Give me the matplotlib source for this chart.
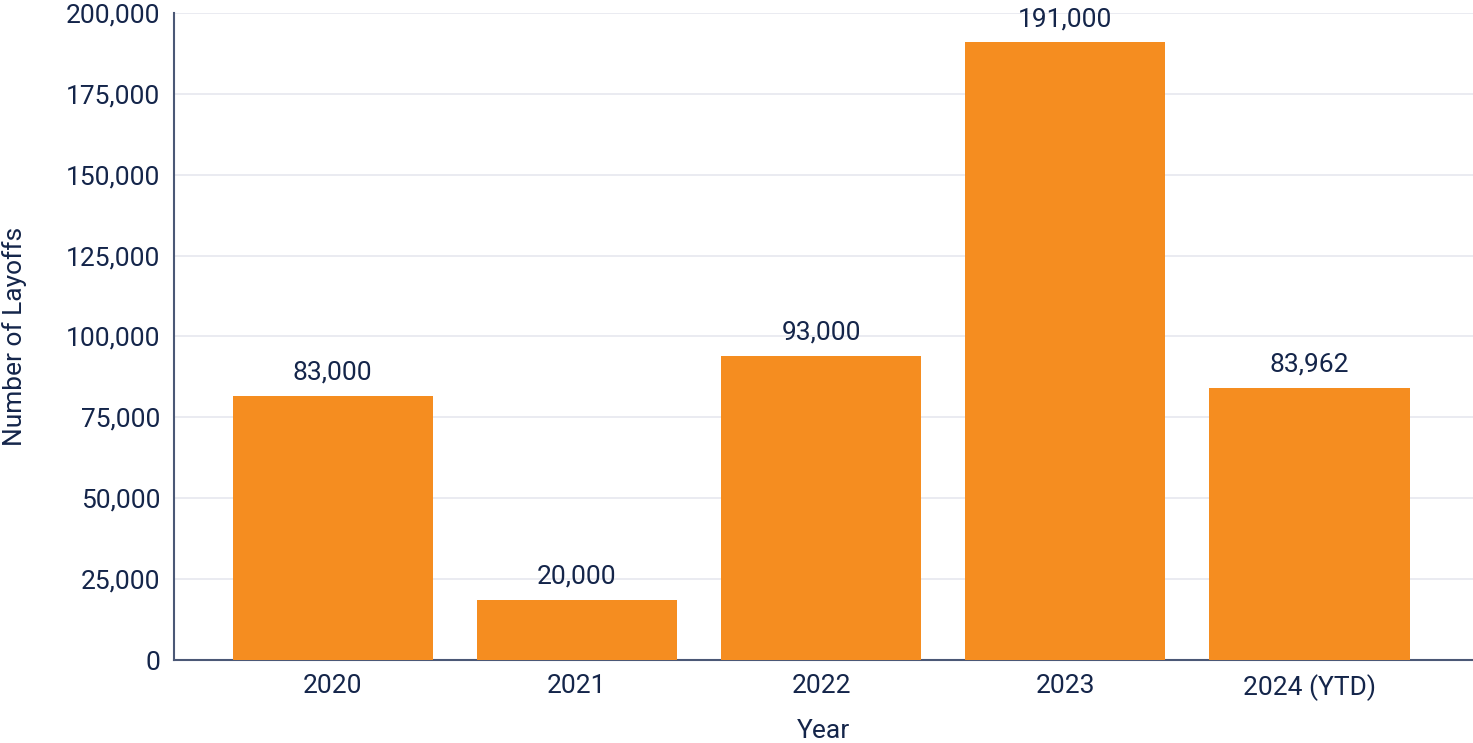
import matplotlib.pyplot as plt
from matplotlib.ticker import FuncFormatter

# data
years = ['2020', '2021', '2022', '2023', '2024 (YTD)']
bar_heights = [81600, 18700, 94000, 191000, 84200]
bar_labels = ['83,000', '20,000', '93,000', '191,000', '83,962']

TextColor = '#14254a'
AxisColor = '#4b5876'
BarColor = '#f58d20'

plt.rcParams['font.family'] = ['Roboto', 'DejaVu Sans']

fig = plt.figure(figsize=(14.73, 7.43), dpi=100)
ax = fig.add_axes([174/1473, 1-660/743, 1-174/1473, (660-13)/743])

x = range(len(years))
bars = ax.bar(x, bar_heights, width=0.82, color=BarColor, zorder=3)
for b, lab in zip(bars, bar_labels):
    ax.annotate(lab, (b.get_x()+b.get_width()/2, b.get_height()),
                xytext=(0, 8), textcoords='offset points',
                ha='center', va='bottom', fontsize=19, color=TextColor)

ax.set_xlim(-0.65, 4.67)
ax.set_ylim(0, 200000)
ax.set_yticks(range(0, 200001, 25000))
ax.yaxis.set_major_formatter(FuncFormatter(lambda v, p: f'{int(v):,}'))
ax.set_xticks(list(x))
ax.set_xticklabels(years)
ax.tick_params(axis='both', length=0, labelsize=19, colors=TextColor)
ax.tick_params(axis='y', pad=10)
ax.tick_params(axis='x', pad=10)
ax.grid(axis='y', color='#e6e8ef', linewidth=1.2, zorder=0)

for s in ['top', 'right']:
    ax.spines[s].set_visible(False)
for s in ['left', 'bottom']:
    ax.spines[s].set_color(AxisColor)
    ax.spines[s].set_linewidth(1.5)

ax.set_xlabel('Year', fontsize=19, color=TextColor, labelpad=13)
ax.set_ylabel('Number of Layoffs', fontsize=19, color=TextColor, labelpad=28)

fig.savefig('out.png', dpi=100)
